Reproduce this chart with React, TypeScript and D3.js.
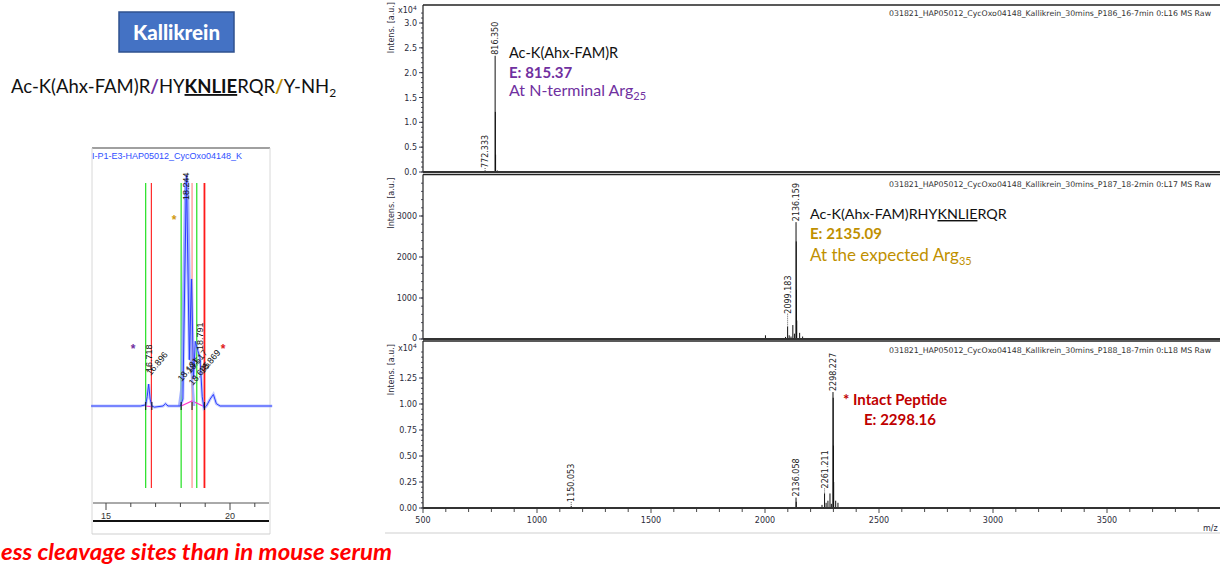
import React from "react";
import * as d3 from "d3";

const W = 1220;
const H = 565;

// ---------- Mass spectra data ----------
const MZ_TICKS = [500, 1000, 1500, 2000, 2500, 3000, 3500];

// Panel 1 (x10^4)
const p1Mz = [650, 705, 772.333, 790, 803, 816.35, 817.35, 818.35, 826, 840, 870, 960];
const p1Int = [0.012, 0.006, 0.02, 0.012, 0.02, 2.34, 1.21, 0.35, 0.03, 0.015, 0.01, 0.008];
const p1LabelMz = [816.35, 772.333];
const p1LabelText = ["816.350", "772.333"];
const p1YTicks = [0, 0.5, 1.0, 1.5, 2.0, 2.5, 3.0];

// Panel 2
const p2Mz = [2002, 2080, 2090, 2099.183, 2106, 2114, 2122.1, 2129, 2136.159, 2137.16, 2138.16, 2139.2, 2152, 2165];
const p2Int = [90, 25, 50, 300, 90, 60, 340, 130, 2850, 2380, 1200, 450, 150, 60];
const p2LabelMz = [2136.159, 2099.183];
const p2LabelText = ["2136.159", "2099.183"];
const p2YTicks = [0, 1000, 2000, 3000];

// Panel 3 (x10^4)
const p3Mz = [1150.053, 2136.058, 2137.06, 2250, 2261.211, 2268, 2276, 2285, 2291, 2298.227, 2299.23, 2300.23, 2301.23, 2310, 2320];
const p3Int = [0.02, 0.1, 0.06, 0.03, 0.14, 0.05, 0.07, 0.14, 0.04, 1.115, 1.06, 0.6, 0.25, 0.07, 0.05];
const p3LabelMz = [2298.227, 2261.211, 2136.058, 1150.053];
const p3LabelText = ["2298.227", "2261.211", "2136.058", "1150.053"];
const p3YTicks = [0, 0.25, 0.5, 0.75, 1.0, 1.25];

const headers = [
  "031821_HAP05012_CycOxo04148_Kallikrein_30mins_P186_16-7min 0:L16 MS Raw",
  "031821_HAP05012_CycOxo04148_Kallikrein_30mins_P187_18-2min 0:L17 MS Raw",
  "031821_HAP05012_CycOxo04148_Kallikrein_30mins_P188_18-7min 0:L18 MS Raw",
];

// ---------- Chromatogram data ----------
const chromT = [14.4, 16.4, 16.6, 16.66, 16.72, 16.78, 16.85, 16.95, 17.3, 17.4, 17.5, 18.0, 18.1, 18.244, 18.36, 18.45, 18.53, 18.6, 18.7, 18.79, 18.88, 18.95, 19.05, 19.2, 19.33, 19.45, 19.6, 21.7];
const chromI = [0, 0, 0.5, 4, 9.5, 3, 0, -0.5, 0, 1, 0, 0, 3, 100, 20, 55, 12, 28, 24, 21, 4, -1, 0, 3, 5, 1, 0, 0];
const chromLightT = [17.95, 18.05, 18.2, 18.3, 18.42, 18.55];
const chromLightI = [0, 8, 97, 97, 20, 0];
const chromMarkerT = [16.6, 16.83, 18.03, 18.47, 18.66, 18.97];
const chromMarkerColor = ["#22e022", "#ff2a2a", "#22e022", "#ff8a8a", "#22e022", "#ff1a1a"];
const chromTicks = [15, 16, 17, 18, 19, 20, 21];
const chromBaseT1 = [16.6, 16.85];
const chromBaseI1 = [0, -0.3];
const chromBaseT2 = [18.03, 18.47, 18.97];
const chromBaseI2 = [0, 2.2, -0.3];

const PURPLE = "#7030A0";
const GOLD = "#BF9000";
const DARKRED = "#C00000";
const TICKC = "#2b2b3a";

const xMz = d3.scaleLinear().domain([500, 4000]).range([423, 1221]);

type Panel = {
  top: number;
  base: number;
  y: d3.ScaleLinear<number, number>;
  mz: number[];
  ints: number[];
  labelMz: number[];
  labelText: string[];
  yTicks: number[];
  minorStep: number;
  minorMax: number;
  fmt: (v: number) => string;
  lift: number[];
};

const panels: Panel[] = [
  {
    top: 5, base: 172, y: d3.scaleLinear().domain([0, 3]).range([172, 23]),
    mz: p1Mz, ints: p1Int, labelMz: p1LabelMz, labelText: p1LabelText,
    yTicks: p1YTicks, minorStep: 0.1, minorMax: 3.3, fmt: d3.format(".1f"), lift: [1, 3],
  },
  {
    top: 174.5, base: 339, y: d3.scaleLinear().domain([0, 3000]).range([339, 216]),
    mz: p2Mz, ints: p2Int, labelMz: p2LabelMz, labelText: p2LabelText,
    yTicks: p2YTicks, minorStep: 200, minorMax: 3900, fmt: d3.format("d"), lift: [1, 13],
  },
  {
    top: 341, base: 508, y: d3.scaleLinear().domain([0, 1.25]).range([508, 378]),
    mz: p3Mz, ints: p3Int, labelMz: p3LabelMz, labelText: p3LabelText,
    yTicks: p3YTicks, minorStep: 0.05, minorMax: 1.52, fmt: d3.format(".2f"), lift: [1, 5, 1, 4],
  },
];

const tc = d3.scaleLinear().domain([15, 20]).range([106, 230]);
const ic = d3.scaleLinear().domain([0, 100]).range([406, 175]);

function MsPanel({ p, idx }: { p: Panel; idx: number }) {
  const minor = d3.range(0, p.minorMax, p.minorStep);
  return (
    <g>
      <line x1={423} x2={W} y1={p.top} y2={p.top} stroke="#222" strokeWidth={1.4} />
      <line x1={423} x2={423} y1={p.top} y2={p.base} stroke="#222" strokeWidth={1.2} />
      {minor.map((v, i) => (
        <line key={"m" + i} x1={421} x2={423} y1={p.y(v)} y2={p.y(v)} stroke={TICKC} strokeWidth={0.8} />
      ))}
      {p.yTicks.map((v, i) => (
        <g key={"t" + i}>
          <line x1={419} x2={423} y1={p.y(v)} y2={p.y(v)} stroke={TICKC} strokeWidth={0.9} />
          <text x={417} y={p.y(v) + (v === 0 && idx === 1 ? 1.5 : 3)} textAnchor="end" fontSize={8} fontFamily="DejaVu Sans" fill={TICKC}>
            {p.fmt(v)}
          </text>
        </g>
      ))}
      <text
        transform={`translate(394,${p.top + (idx === 0 ? -3 : 3)}) rotate(-90)`}
        textAnchor="end" fontSize={8} fontFamily="DejaVu Sans" fill={TICKC}
      >
        Intens. [a.u.]
      </text>
      {idx !== 1 && (
        <text x={398} y={p.top + (idx === 0 ? 8 : 10)} fontSize={8} fontFamily="DejaVu Sans" fill={TICKC}>
          x10<tspan fontSize={6} dy={-3}>4</tspan>
        </text>
      )}
      <text x={889} y={p.top + (idx === 0 ? 11 : 12)} fontSize={7.8} fontFamily="DejaVu Sans" fill="#333">
        {headers[idx]}
      </text>
      {p.mz.map((m, i) => (
        <line key={"p" + i} x1={xMz(m)} x2={xMz(m)} y1={p.base} y2={p.y(p.ints[i])} stroke="#111" strokeWidth={1} />
      ))}
      {p.labelMz.map((m, i) => {
        const k = p.mz.indexOf(m);
        const topY = p.y(p.ints[k]);
        const yb = topY - p.lift[i];
        return (
          <g key={"l" + i}>
            {p.lift[i] > 2 && (
              <line x1={xMz(m)} x2={xMz(m)} y1={yb} y2={topY} stroke="#333" strokeWidth={0.8} strokeDasharray="1,1" />
            )}
            <text
              transform={`translate(${xMz(m) + 3},${yb}) rotate(-90)`}
              fontSize={8} fontFamily="DejaVu Sans" fill="#222"
            >
              {p.labelText[i]}
            </text>
          </g>
        );
      })}
      <line x1={423} x2={W} y1={p.base} y2={p.base} stroke="#333" strokeWidth={2} />
    </g>
  );
}

export default function App() {
  const lineOf = (ts: number[]) =>
    d3.line<number>().x((_, i) => tc(ts[i])).y((d) => ic(d));
  const xMinor = d3.range(500, 4001, 100);
  const lbl = { fontSize: 9, fontFamily: "Liberation Sans", fill: "#111" };

  return (
    <svg
      width={W}
      height={H}
      style={{ position: "absolute", left: 0, top: 0, background: "#fff" }}
      xmlns="http://www.w3.org/2000/svg"
    >
      <rect width={W} height={H} fill="#fff" />

      {/* Kallikrein button */}
      <rect x={119} y={12} width={115} height={40} fill="#4472C4" stroke="#2F528F" strokeWidth={1.5} />
      <text x={176.5} y={39.5} textAnchor="middle" fontSize={20.5} fontWeight="900" fontFamily="Lato" fill="#fff">
        Kallikrein
      </text>

      {/* Sequence */}
      <text x={11} y={93} fontSize={18.5} fontFamily="Lato" fill="#111">
        Ac-K(Ahx-FAM)R
        <tspan fill={PURPLE} fontWeight="bold">/</tspan>
        HY
        <tspan fontWeight="bold" textDecoration="underline">KNLIE</tspan>
        RQR
        <tspan fill={GOLD} fontWeight="bold">/</tspan>
        Y-NH
        <tspan fontSize={12} dy={4}>2</tspan>
      </text>

      {/* Chromatogram frame */}
      <line x1={92} x2={270} y1={148} y2={148} stroke="#a0a0a0" strokeWidth={2} />
      <line x1={92} x2={92} y1={148} y2={534} stroke="#d8d8d8" strokeWidth={1} />
      <line x1={270} x2={270} y1={148} y2={534} stroke="#d8d8d8" strokeWidth={1} />
      <line x1={92} x2={270} y1={534} y2={534} stroke="#cfcfcf" strokeWidth={1} />
      <text x={92} y={159} fontSize={9} fontFamily="Liberation Sans" fill="#2f4fff">
        I-P1-E3-HAP05012_CycOxo04148_K
      </text>

      {chromMarkerT.map((t, i) => (
        <line key={"cv" + i} x1={tc(t)} x2={tc(t)} y1={183} y2={488} stroke={chromMarkerColor[i]} strokeWidth={i === 5 ? 1.8 : 1.2} />
      ))}

      <path d={lineOf(chromBaseT1)(chromBaseI1) as string} stroke="#ff33cc" strokeWidth={1.2} fill="none" />
      <path d={lineOf(chromBaseT2)(chromBaseI2) as string} stroke="#ff33cc" strokeWidth={1.2} fill="none" />

      <path d={lineOf(chromLightT)(chromLightI) as string} stroke="#8fa0ff" strokeWidth={2.5} fill="none" opacity={0.8} />
      <path d={lineOf(chromT)(chromI) as string} stroke="#8a9cff" strokeWidth={3} fill="none" opacity={0.5} />
      <path d={lineOf(chromT)(chromI) as string} stroke="#2a3cff" strokeWidth={1} fill="none" />

      {chromBaseT2.concat(chromBaseT1).map((t, i) => (
        <line key={"it" + i} x1={tc(t)} x2={tc(t)} y1={402} y2={410} stroke="#111" strokeWidth={1} />
      ))}

      <text transform={`translate(${tc(18.244) + 3},200) rotate(-90)`} {...lbl}>18.244</text>
      <text transform={`translate(${tc(18.791) + 3},350) rotate(-90)`} {...lbl}>18.791</text>
      <text transform={`translate(${tc(16.72) + 3},372) rotate(-90)`} {...lbl}>16.718</text>
      <text transform={`translate(${tc(16.8)},376) rotate(-50)`} {...lbl}>16.896</text>
      <text transform={`translate(${tc(18.05)},382) rotate(-50)`} {...lbl}>18.131</text>
      <text transform={`translate(${tc(18.4)},374) rotate(-50)`} {...lbl}>18.517</text>
      <text transform={`translate(${tc(18.5)},386) rotate(-50)`} {...lbl}>18.645</text>
      <text transform={`translate(${tc(18.92)},374) rotate(-50)`} {...lbl}>18.869</text>

      <text x={133} y={353} textAnchor="middle" fontSize={12} fontWeight="bold" fontFamily="Liberation Sans" fill={PURPLE}>*</text>
      <text x={223} y={353} textAnchor="middle" fontSize={12} fontWeight="bold" fontFamily="Liberation Sans" fill="#e02020">*</text>
      <text x={174} y={224} textAnchor="middle" fontSize={12} fontWeight="bold" fontFamily="Liberation Sans" fill="#d09a10">*</text>

      <line x1={93} x2={269} y1={503} y2={503} stroke="#555" strokeWidth={1} />
      {chromTicks.map((t) => (
        <line key={"ct" + t} x1={tc(t)} x2={tc(t)} y1={503} y2={t % 5 === 0 ? 510 : 507} stroke="#444" strokeWidth={1} />
      ))}
      {[15, 20].map((t) => (
        <text key={"cl" + t} x={tc(t)} y={519} textAnchor="middle" fontSize={9} fontFamily="Liberation Sans" fill="#333">{t}</text>
      ))}
      <line x1={93} x2={269} y1={521} y2={521} stroke="#111" strokeWidth={2} />

      {/* bottom-left note */}
      <text
        x={1} y={560} fontSize={22} fontWeight="bold" fontStyle="italic" fontFamily="Lato" fill="#ff0000"
        textLength={391} lengthAdjust="spacingAndGlyphs"
      >
        ess cleavage sites than in mouse serum
      </text>

      {panels.map((p, i) => (
        <MsPanel key={i} p={p} idx={i} />
      ))}

      {xMinor.map((v) => (
        <line key={"xm" + v} x1={xMz(v)} x2={xMz(v)} y1={508} y2={v % 500 === 0 ? 513 : 512} stroke="#333" strokeWidth={0.9} />
      ))}
      {MZ_TICKS.map((v) => (
        <text key={"xl" + v} x={xMz(v)} y={523} textAnchor="middle" fontSize={8} fontFamily="DejaVu Sans" fill={TICKC}>
          {v}
        </text>
      ))}
      <text x={1203} y={531} fontSize={8} fontFamily="DejaVu Sans" fill={TICKC}>m/z</text>
      <line x1={385} x2={W} y1={533} y2={533} stroke="#cfcfcf" strokeWidth={1} />

      {/* Annotations panel 1 */}
      <text x={509} y={58} fontSize={14.5} fontFamily="Lato" fill="#111">Ac-K(Ahx-FAM)R</text>
      <text x={509} y={78} fontSize={15} fontWeight="bold" fontFamily="Lato" fill={PURPLE}>E: 815.37</text>
      <text x={509} y={96} fontSize={16} fontFamily="Lato" fill={PURPLE}>
        At N-terminal Arg<tspan fontSize={11} dy={4}>25</tspan>
      </text>

      {/* Annotations panel 2 */}
      <text x={810} y={219} fontSize={14.3} fontFamily="Lato" fill="#111">
        Ac-K(Ahx-FAM)RHY<tspan textDecoration="underline">KNLIE</tspan>RQR
      </text>
      <text x={810} y={239} fontSize={15} fontWeight="bold" fontFamily="Lato" fill={GOLD}>E: 2135.09</text>
      <text x={810} y={261} fontSize={17} fontFamily="Lato" fill={GOLD}>
        At the expected Arg<tspan fontSize={11} dy={4}>35</tspan>
      </text>

      {/* Annotations panel 3 */}
      <text x={843} y={405} fontSize={15} fontWeight="bold" fontFamily="Lato" fill={DARKRED}>* Intact Peptide</text>
      <text x={864} y={425} fontSize={15} fontWeight="bold" fontFamily="Lato" fill={DARKRED}>E: 2298.16</text>
    </svg>
  );
}
